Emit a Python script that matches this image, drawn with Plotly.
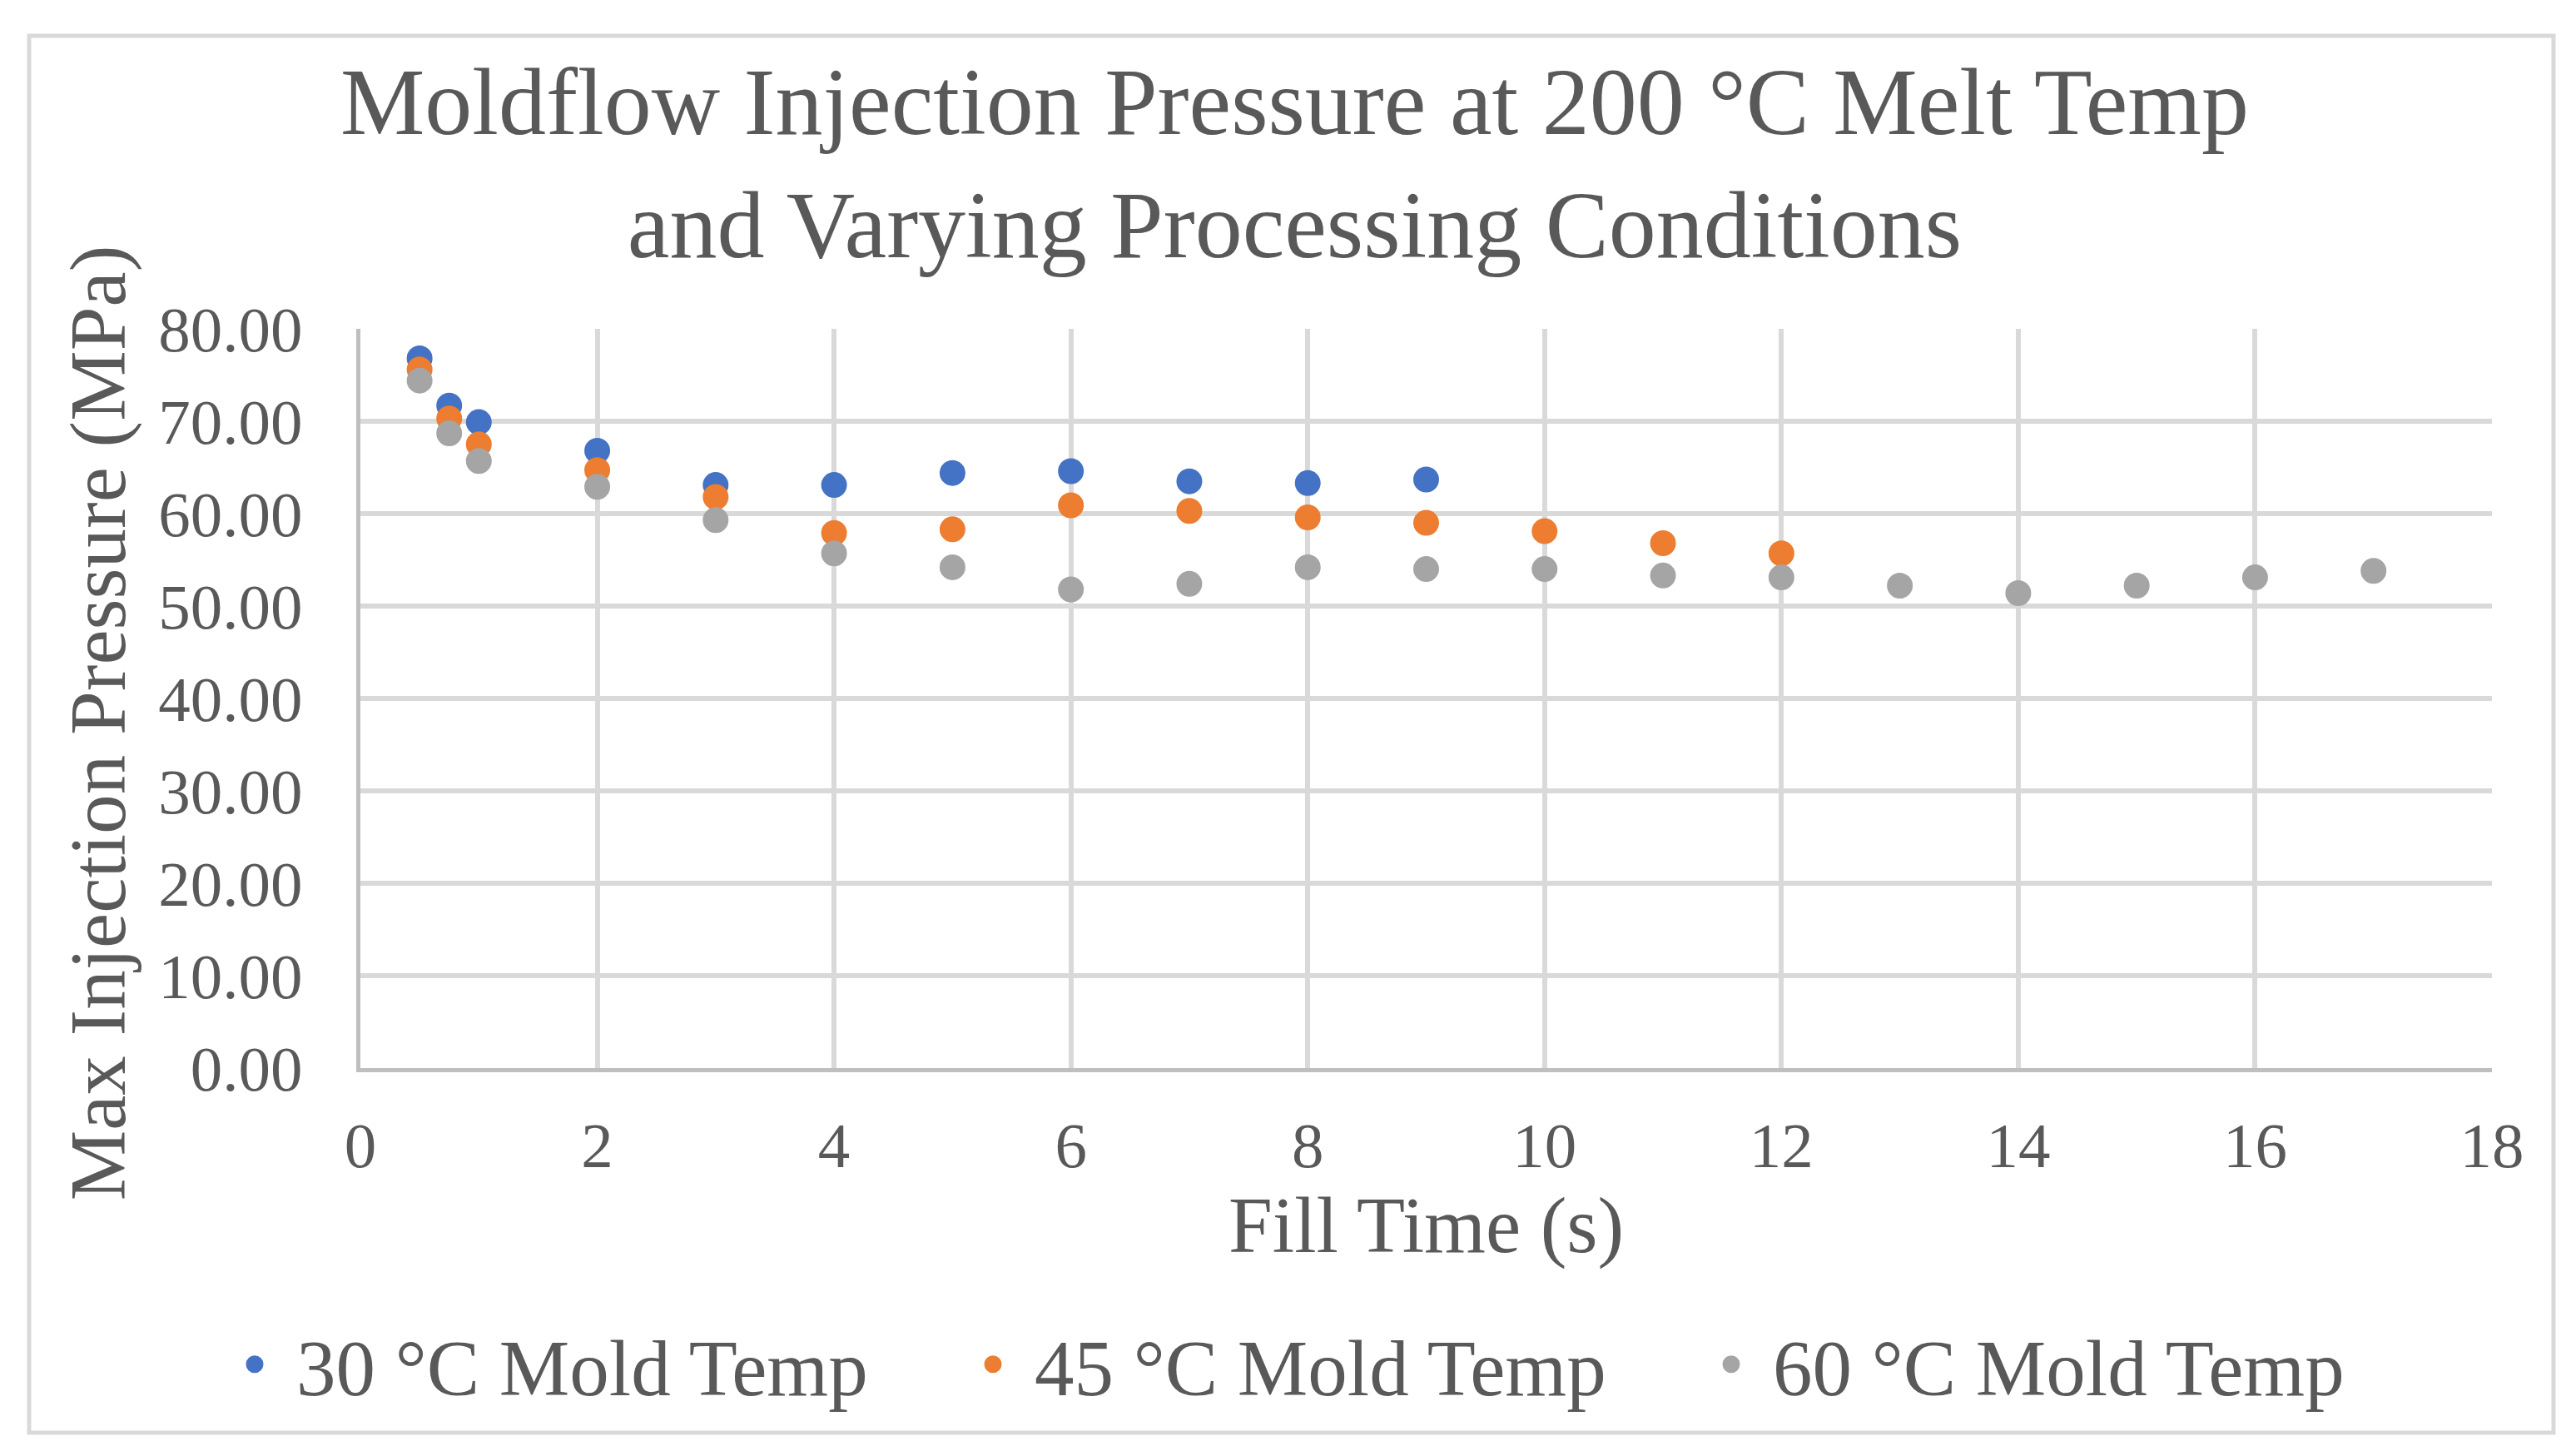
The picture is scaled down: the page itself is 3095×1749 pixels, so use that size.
import plotly.graph_objects as go

# fill time (s) and max injection pressure (MPa), one pair per mold temp
fill_30 = [0.5, 0.75, 1, 2, 3, 4, 5, 6, 7, 8, 9]
pres_30 = [76.8, 71.7, 69.9, 66.8, 63.1, 63.1, 64.4, 64.6, 63.5, 63.3, 63.7]

fill_45 = [0.5, 0.75, 1, 2, 3, 4, 5, 6, 7, 8, 9, 10, 11, 12]
pres_45 = [75.6, 70.3, 67.5, 64.7, 61.8, 57.9, 58.3, 60.9, 60.3, 59.6, 59.0, 58.1, 56.8, 55.7]

fill_60 = [0.5, 0.75, 1, 2, 3, 4, 5, 6, 7, 8, 9, 10, 11, 12, 13, 14, 15, 16, 17]
pres_60 = [74.4, 68.7, 65.7, 62.9, 59.3, 55.7, 54.2, 51.8, 52.4, 54.2, 54.0, 54.0,
           53.3, 53.1, 52.2, 51.4, 52.2, 53.1, 53.8]

names = ['30 °C Mold Temp', '45 °C Mold Temp', '60 °C Mold Temp']
colors = ['#4472C4', '#ED7D31', '#A5A5A5']

FONT = 'Times New Roman, Liberation Serif, serif'
TXT = '#595959'
W, H = 3095, 1749
M = dict(l=425, r=109, t=387, b=474, autoexpand=False)

fig = go.Figure()
for xs, ys, name, c in zip([fill_30, fill_45, fill_60], [pres_30, pres_45, pres_60], names, colors):
    # outline in the fill colour: keeps the dot ~31px and makes the (size-capped) legend dot bigger
    fig.add_trace(go.Scatter(x=xs, y=ys, mode='markers', name=name,
                             marker=dict(size=26, color=c, line=dict(width=5, color=c))))

# outer chart border, in paper units
pw = W - M['l'] - M['r']
ph = H - M['t'] - M['b']
fig.add_shape(type='rect', xref='paper', yref='paper',
              x0=(27 - M['l']) / pw, x1=(3060 - M['l']) / pw,
              y0=(H - M['b'] - 1713) / ph, y1=(H - M['b'] - 35) / ph,
              line=dict(color='#D9D9D9', width=5), layer='below')

# y title as an annotation so it can sit a little below the plot centre, like the source
fig.add_annotation(text='Max Injection Pressure (MPa)', textangle=-90,
                   xref='paper', yref='paper', x=(110 - M['l']) / pw, y=0.467,
                   xanchor='center', yanchor='middle', showarrow=False,
                   font=dict(size=95, family=FONT, color=TXT))

fig.update_layout(
    width=W, height=H, margin=M,
    plot_bgcolor='white', paper_bgcolor='white',
    font=dict(family=FONT, color=TXT, size=95),
    title=dict(text='Moldflow Injection Pressure at 200 °C Melt Temp<br>and Varying Processing Conditions',
               x=0.5, xref='container', xanchor='center',
               y=1 - 153 / H, yref='container', yanchor='top',
               font=dict(size=114, family=FONT, color=TXT)),
    # negative paper x lets the one-row legend use the left margin as well
    legend=dict(orientation='h', xref='paper', yref='paper',
                x=(248 - M['l']) / pw, xanchor='left',
                y=(H - M['b'] - 1631) / ph, yanchor='middle',
                itemwidth=90, entrywidth=782,
                font=dict(size=95), bgcolor='rgba(0,0,0,0)'),
    showlegend=True,
)
fig.update_xaxes(range=[0, 18], dtick=2, tick0=0,
                 showgrid=True, gridcolor='#D9D9D9', gridwidth=6,
                 showline=True, linecolor='#BFBFBF', linewidth=5,
                 zeroline=False, ticks='', ticklabelstandoff=22,
                 tickfont=dict(size=77),
                 title=dict(text='Fill Time (s)', standoff=6, font=dict(size=95)))
fig.update_yaxes(range=[0, 80], dtick=10, tick0=0, tickformat='.2f',
                 showgrid=True, gridcolor='#D9D9D9', gridwidth=6,
                 showline=True, linecolor='#BFBFBF', linewidth=5,
                 zeroline=False, ticks='', ticklabelstandoff=49,
                 tickfont=dict(size=77))

fig.write_html('out.html')
